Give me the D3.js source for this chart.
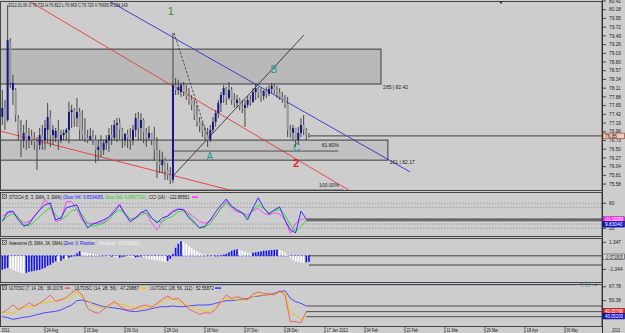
<!DOCTYPE html>
<html><head><meta charset="utf-8">
<script src="https://cdn.jsdelivr.net/npm/d3@7"></script>
<style>
body{margin:0;background:#cdcdcd;overflow:hidden}
svg{display:block}
text{font-family:"Liberation Sans",Arial,sans-serif}
</style></head>
<body><svg id="c" width="625" height="333"></svg>
<script>
// ---------- DATA ----------
const highs=[78.06,77.80,80.30,79.43,78.46,78.11,77.40,77.27,77.14,77.27,
77.06,77.01,76.95,76.82,77.06,77.14,77.27,77.72,77.53,77.14,
77.06,77.27,77.01,77.01,77.06,77.75,77.67,77.59,77.85,77.59,
77.53,77.32,77.01,77.06,77.01,76.87,76.74,76.87,76.74,76.87,
77.06,77.14,77.27,77.32,77.32,77.06,76.93,77.01,77.06,77.14,
77.45,77.48,77.45,77.32,77.06,77.11,76.93,77.09,76.82,76.48,
76.43,76.27,76.14,76.03,79.57,78.38,78.33,78.25,78.27,78.19,
78.11,77.93,77.80,77.67,77.35,77.22,77.09,77.06,77.14,77.35,
77.53,77.80,78.01,78.19,78.14,78.27,78.14,77.98,77.93,77.85,
77.80,77.80,77.90,77.93,78.11,78.22,78.14,78.11,78.06,78.14,
78.19,78.25,78.22,78.17,78.11,78.01,77.93,77.88,77.14,77.14,
77.06,77.09,77.32,77.40,77.06,76.93];
const lows=[77.14,77.01,77.22,78.11,77.67,77.22,76.74,76.29,76.53,76.48,
76.53,76.61,76.48,75.95,76.48,76.48,76.48,76.66,76.56,76.61,
76.69,76.48,76.66,76.74,76.74,76.66,77.06,77.09,77.09,76.74,
76.74,76.69,76.66,76.74,76.61,76.14,76.21,76.29,76.35,76.48,
76.43,76.61,76.74,76.69,76.74,76.53,76.58,76.53,76.48,76.61,
76.82,76.74,76.74,76.66,76.56,76.74,76.61,76.21,75.74,75.87,
75.87,75.69,75.69,75.58,75.61,77.93,77.93,77.88,77.90,77.80,
77.67,77.53,77.27,77.09,76.95,76.82,76.74,76.56,76.69,76.93,
77.09,77.32,77.48,77.72,77.67,77.80,77.67,77.59,77.59,77.53,
77.45,77.09,77.59,77.64,77.72,77.80,77.85,77.75,77.80,77.85,
77.90,77.98,77.96,77.85,77.80,77.72,77.59,76.82,76.80,76.74,
76.56,76.61,76.82,76.87,76.74,76.80];
const opens=[77.35,77.59,77.27,79.33,78.06,78.06,77.32,76.95,76.74,76.93,
76.74,76.85,76.74,76.69,76.61,76.87,76.74,77.01,77.35,76.87,
76.80,76.98,76.74,76.87,76.93,77.01,77.48,77.53,77.32,77.48,
77.01,76.87,76.80,76.74,76.85,76.74,76.48,76.56,76.48,76.66,
76.74,76.87,76.80,77.14,77.19,77.01,76.74,76.90,76.80,76.74,
77.01,77.32,77.06,77.27,76.95,76.80,76.93,76.74,76.48,76.16,
76.08,76.21,75.95,75.82,75.69,78.19,78.06,78.01,78.19,78.01,
77.90,77.80,77.67,77.40,77.22,77.11,76.98,76.87,76.74,77.01,
77.22,77.45,77.72,77.93,78.11,77.85,78.06,77.80,77.72,77.80,
77.64,77.59,77.67,77.80,77.75,78.01,78.11,77.98,77.90,78.04,
77.96,78.09,78.17,78.06,77.98,77.88,77.80,77.69,77.01,76.93,
77.06,76.74,76.93,77.14,77.01,76.87];
const closes=[77.59,77.27,79.38,78.27,78.25,77.40,76.95,76.74,76.93,76.74,
76.85,76.74,76.69,76.61,76.87,76.74,77.06,77.35,76.87,77.01,
76.98,76.74,76.87,76.93,77.01,77.48,77.53,77.32,77.48,77.01,
76.87,76.80,76.74,76.85,76.74,76.48,76.56,76.48,76.66,76.74,
76.87,76.80,77.14,77.19,77.01,76.87,76.90,76.80,76.74,77.01,
77.32,77.06,77.27,76.95,76.80,76.93,76.74,76.48,76.16,76.08,
76.21,75.95,75.82,75.69,78.19,78.06,78.14,78.19,78.01,77.90,
77.80,77.67,77.40,77.22,77.11,76.98,76.87,76.74,77.01,77.22,
77.45,77.72,77.93,78.11,77.85,78.06,77.80,77.72,77.80,77.64,
77.59,77.67,77.80,77.75,78.01,78.11,77.98,77.90,78.04,77.96,
78.09,78.17,78.06,77.98,77.88,77.80,77.69,77.01,76.93,77.06,
76.74,76.93,77.14,77.01,76.87,76.85];

// indicator lines sampled every 2nd bar
const stochK=[37,59,61,40,25,30,49,64,76,81,40,45,69,73,76,45,21,30,35,40,47,59,76,54,35,45,57,64,45,33,45,49,59,66,64,45,33,21,25,40,59,76,90,73,64,57,40,69,93,69,54,64,71,40,16,9,61,42];
const stochD=[36,49,54,46,28,25,36,48,60,70,52,41,49,62,65,52,32,25,28,32,40,56,64,56,40,44,52,57,44,36,36,44,49,60,62,52,36,20,22,32,48,68,80,72,64,57,46,64,76,68,57,62,65,52,28,12,24,38];
const cci=[-4,29,45,-31,-84,-72,-19,69,198,117,-72,-52,169,169,69,-60,-92,-92,-92,-80,-12,77,141,29,-43,-19,45,29,-84,-172,-60,8,60,81,77,29,-19,-72,-92,-60,-4,89,181,89,48,29,8,60,89,29,8,36,20,-52,-212,-92,-43,-40];

const ao=[-1.4,-1.3,-1.2,-1.25,-1.4,-1.5,-1.6,-1.7,-1.75,-1.7,
-1.6,-1.55,-1.5,-1.45,-1.4,-1.3,-1.2,-1.0,-0.9,-0.7,
-0.55,-0.6,-0.5,-0.3,-0.35,-0.2,-0.1,0.05,0.25,0.45,
0.4,0.35,0.3,0.25,0.2,0.15,0.1,0.05,0.02,-0.05,
-0.1,-0.08,-0.15,-0.2,-0.18,-0.1,-0.05,-0.1,-0.15,-0.2,
-0.15,-0.1,-0.05,-0.1,-0.2,-0.3,-0.35,-0.4,-0.45,-0.5,
-0.55,-0.6,-0.5,-0.3,0.2,0.8,1.2,1.45,1.4,1.2,
1.0,0.8,0.6,0.45,0.3,0.2,0.1,0.0,-0.05,-0.08,
-0.05,0.0,0.05,0.12,0.2,0.35,0.5,0.6,0.65,0.6,
0.5,0.4,0.3,0.25,0.3,0.35,0.4,0.45,0.5,0.52,
0.55,0.58,0.6,0.62,0.6,0.5,0.3,0.1,-0.2,-0.4,
-0.55,-0.6,-0.65,-0.7,-0.65,-0.6];
const aoLevels=[0,-0.92];

const ultFast=[35.4,39.6,45,39.6,42.9,47.9,43.75,47.1,52.1,57.5,50,51.25,54.6,60.4,63.75,57.5,40.8,36.7,34.6,39.6,45,49.2,43.75,39.6,38.75,40.8,43.75,45,42.1,47.1,52.1,56.25,52.1,53.3,47.1,39.6,36.7,33.3,35.4,34.6,39.6,49.2,57.5,53.3,55.4,53.3,52.1,58.75,61.25,59.6,58.75,57.5,62.9,57.5,24.2,24.2,22.9,36.7];
const ultMid=[36.7,35.4,34.6,38.75,41.7,42.9,43.75,47.1,47.9,49.2,50.4,51.25,53.3,56.25,60.4,55.4,50.4,45,42.1,40.8,42.9,47.1,46.25,45,42.9,40.8,40.8,41.7,42.9,45,49.2,53.3,52.1,50.4,47.1,44.2,40.8,38.75,36.7,37.9,42.9,47.9,53.3,52.1,51.25,51.25,51.25,55.4,57.5,57.5,57.5,58.75,60.4,61.25,34.6,32.5,27.1,30.4];
const ultSlow=[30.4,29.2,27.1,28.3,29.6,30.4,32.1,33.75,35.4,36.25,37.1,38.75,42.1,45,50.4,51.25,49.2,47.1,45,42.9,42.1,41.25,40.4,38.75,37.1,36.7,37.9,38.75,40.4,42.1,42.9,42.9,43.75,42.9,42.9,43.75,44.6,45,45,45.4,47.1,48.75,50.4,50.4,51.25,52.1,52.9,55.4,56.25,57.1,57.9,59.6,61.7,62.9,53.3,49.2,47.1,43.75];

const priceTicks=[80.41,80.18,79.95,79.72,79.49,79.26,79.03,78.80,78.57,78.34,78.11,77.88,77.65,77.42,77.19,76.96,76.73,76.50,76.27,76.04,75.81,75.58];
const stochTicks=[80,20];
const aoTicks=[1.347,-1.344];
const ultTicks=[67.78,50.38];
const dateLabels=["24 Aug","15 Sep","06 Oct","28 Oct","18 Nov","07 Dec","28 Dec","17 Jan 2012","04 Feb","22 Feb","11 Mar","29 Mar","18 Apr","06 May"];
const dateStart=16, dateStep=15;

// annotations in (bar index, price)
const zones=[{i0:-1,i1:142,p0:79.14,p1:78.22,fill:"#b9b9b9"},{i0:-1,i1:144.6,p0:76.74,p1:76.21,fill:"#c1c1c1"}];
const trendLines=[
 {a:[39.26,80.44],b:[152.9,75.90],c:"#3030d0",w:0.9,d:null},
 {a:[9.26,80.44],b:[130.4,75.40],c:"#e83a3a",w:0.9,d:null},
 {a:[-0.9,76.98],b:[86.5,75.40],c:"#e83a3a",w:0.9,d:null},
 {a:[64,75.79],b:[113.1,79.51],c:"#222",w:0.8,d:null},
 {a:[64.4,79.57],b:[76.8,76.87],c:"#333",w:0.8,d:"2.5,1.5"},
 {a:[64,76.45],b:[126,76.45],c:"#444",w:0.9,d:null}
];
const waveLabels=[
 {t:"1",i:63.2,p:80.05,c:"#3c8a3c",s:11,b:false},
 {t:"B",i:101.8,p:78.50,c:"#1d9a8c",s:10,b:false},
 {t:"A",i:77.8,p:76.22,c:"#1d9a8c",s:10,b:false},
 {t:"C",i:110.4,p:76.46,c:"#1d9a8c",s:10,b:false},
 {t:"2",i:110.2,p:76.02,c:"#e82020",s:11,b:true}
];
const fibTexts=[
 {t:"285 | 82.42",i:142.8,p:78.10},
 {t:"161 | 82.17",i:145.3,p:76.10},
 {t:"61.80%",i:119.8,p:76.55},
 {t:"100.00%",i:118.8,p:75.49}
];

// ---------- LAYOUT ----------
const W=625,H=333,AX=602;
const P={main:[1,190],stoch:[192,236],ao:[238,282],ult:[284,326]};
const svg=d3.select("#c");
svg.append("rect").attr("width",W).attr("height",H).attr("fill","#cdcdcd");
const defs=svg.append("defs");
Object.entries(P).forEach(([k,[t,b]])=>{
  defs.append("clipPath").attr("id","clip-"+k).append("rect").attr("x",0).attr("y",t).attr("width",AX).attr("height",b-t);
});

const x=d3.scaleLinear().domain([0,225]).range([2.3,2.3+225*(40/15)]);
const y=d3.scaleLinear().domain([75.58,80.41]).range([184.04,0.985]);
const ys=d3.scaleLinear().domain([0,100]).range([236.6,194.9]);
const yc=d3.scaleLinear().domain([-100,100]).range([224.0,207.4]);
const ya=d3.scaleLinear().domain([-1.344,1.347]).range([269.3,242.3]);
const yu=d3.scaleLinear().domain([20,70]).range([325,285]);

function fit(g,str,px,py,size,width,fill,weight){
  const t=g.append("text").attr("font-size",size).attr("fill",fill||"#000").text(str);
  if(weight) t.attr("font-weight",weight);
  const w=t.node().getComputedTextLength();
  const s=width?width/w:1;
  t.attr("transform",`translate(${px},${py}) scale(${s},1)`);
  return t;
}

// ---------- MAIN PANEL ----------
const gm=svg.append("g").attr("clip-path","url(#clip-main)");
zones.forEach(z=>{
  gm.append("rect").attr("x",x(z.i0)).attr("y",y(z.p0)).attr("width",x(z.i1)-x(z.i0))
    .attr("height",y(z.p1)-y(z.p0)).attr("fill",z.fill).attr("stroke","#3c3c3c").attr("stroke-width",1);
});
gm.append("line").attr("x1",0).attr("x2",x(128)).attr("y1",y(75.42)).attr("y2",y(75.42)).attr("stroke","#444").attr("stroke-width",1);
trendLines.forEach(l=>{
  const ln=gm.append("line").attr("x1",x(l.a[0])).attr("y1",y(l.a[1])).attr("x2",x(l.b[0])).attr("y2",y(l.b[1]))
   .attr("stroke",l.c).attr("stroke-width",l.w);
  if(l.d) ln.attr("stroke-dasharray",l.d);
});
const lastC=closes[closes.length-1];
gm.append("line").attr("x1",x(closes.length-1)).attr("x2",AX).attr("y1",y(lastC)).attr("y2",y(lastC)).attr("stroke","#5a5a5a").attr("stroke-width",1.4);

const idx=d3.range(closes.length);
gm.selectAll(".wick").data(idx).join("line")
  .attr("x1",i=>x(i)).attr("x2",i=>x(i)).attr("y1",i=>y(highs[i])).attr("y2",i=>y(lows[i]))
  .attr("stroke","#3a3a3a").attr("stroke-width",0.9);
gm.selectAll(".body").data(idx).join("rect")
  .attr("x",i=>x(i)-1).attr("width",2)
  .attr("y",i=>Math.min(y(opens[i]),y(closes[i])))
  .attr("height",i=>Math.max(0.9,Math.abs(y(opens[i])-y(closes[i]))))
  .attr("fill",i=>closes[i]>=opens[i]?"#16168a":"#9a9a9a");

fibTexts.forEach(f=>fit(gm,f.t,x(f.i),y(f.p),5,null,"#222"));
waveLabels.forEach(w=>{
  gm.append("text").attr("x",x(w.i)).attr("y",y(w.p)).attr("font-size",w.s).attr("fill",w.c)
   .attr("font-weight",w.b?"bold":"normal").attr("text-anchor","middle").text(w.t);
});
fit(svg,"2012.01.06  O:76.732  H:76.822  L:76.669  C:76.720  V:76695  R:154.149",8,7,5,120,"#222");
svg.append("path").attr("d",`M${x(187)-2},1 L${x(187)+2},1 L${x(187)},4 Z`).attr("fill","#111");

// ---------- STOCH PANEL ----------
const gs=svg.append("g").attr("clip-path","url(#clip-stoch)");
[80,70,30,20].forEach(v=>{
  gs.append("line").attr("x1",0).attr("x2",AX).attr("y1",ys(v)).attr("y2",ys(v))
    .attr("stroke","#8a8a8a").attr("stroke-width",0.6).attr("stroke-dasharray","1.5,1.5");
});
const xi=k=>x(2*k);
const lineS=(arr,sc)=>d3.line().x((d,k)=>xi(k)).y(d=>sc(d))(arr);
gs.append("path").attr("d",lineS(cci,yc)).attr("fill","none").attr("stroke","#ff3cff").attr("stroke-width",0.9);
gs.append("path").attr("d",lineS(stochD,ys)).attr("fill","none").attr("stroke","#22dd22").attr("stroke-width",0.9);
gs.append("path").attr("d",lineS(stochK,ys)).attr("fill","none").attr("stroke","#2020ff").attr("stroke-width",0.9);
const lastK=stochK[stochK.length-1], lastD=stochD[stochD.length-1];
[lastK,lastD].forEach(v=>gs.append("line").attr("x1",xi(stochK.length-1)).attr("x2",AX).attr("y1",ys(v)).attr("y2",ys(v)).attr("stroke","#444").attr("stroke-width",1.2));

// ---------- AO PANEL ----------
const ga=svg.append("g").attr("clip-path","url(#clip-ao)");
ga.append("line").attr("x1",0).attr("x2",x(ao.length)).attr("y1",ya(0)).attr("y2",ya(0)).attr("stroke","#2020ff").attr("stroke-width",0.9).attr("stroke-dasharray","2,1.5");
ga.selectAll(".ao").data(ao).join("rect")
  .attr("x",(d,i)=>x(i)-0.8).attr("width",1.6)
  .attr("y",d=>Math.min(ya(d),ya(0))).attr("height",d=>Math.abs(ya(d)-ya(0)))
  .attr("fill",(d,i)=>i===0||d>=ao[i-1]?"#1010f0":"#ffffff");
aoLevels.forEach(v=>ga.append("line").attr("x1",x(ao.length-1)).attr("x2",AX).attr("y1",ya(v)).attr("y2",ya(v)).attr("stroke","#444").attr("stroke-width",1));

// ---------- ULT PANEL ----------
const gu=svg.append("g").attr("clip-path","url(#clip-ult)");
gu.append("line").attr("x1",0).attr("x2",577).attr("y1",yu(70)).attr("y2",yu(70)).attr("stroke","#6f93b5").attr("stroke-width",0.8);
gu.append("path").attr("d",lineS(ultSlow,yu)).attr("fill","none").attr("stroke","#3a3aff").attr("stroke-width",0.9);
gu.append("path").attr("d",lineS(ultMid,yu)).attr("fill","none").attr("stroke","#f5c400").attr("stroke-width",0.9);
gu.append("path").attr("d",lineS(ultFast,yu)).attr("fill","none").attr("stroke","#ec5a5a").attr("stroke-width",0.9);
[ultSlow,ultFast,ultMid].forEach(a=>{const v=a[a.length-1];
  gu.append("line").attr("x1",xi(a.length-1)).attr("x2",AX).attr("y1",yu(v)).attr("y2",yu(v)).attr("stroke","#4a4a4a").attr("stroke-width",1);});
fit(svg,"70.000",579,yu(70)+1.8,5,12,"#6f93b5");
svg.append("path").attr("d",`M592,${yu(70)} L597,${yu(70)} M595,${yu(70)-1.5} L597,${yu(70)} L595,${yu(70)+1.5}`).attr("stroke","#6f93b5").attr("stroke-width",0.8).attr("fill","none");

// ---------- PANEL BORDERS ----------
Object.values(P).forEach(([t,b])=>{
  svg.append("rect").attr("x",0.5).attr("y",t+0.5).attr("width",AX-0.5).attr("height",b-t).attr("fill","none").attr("stroke","#444").attr("stroke-width",1);
});
svg.append("line").attr("x1",AX+0.5).attr("x2",AX+0.5).attr("y1",0).attr("y2",H).attr("stroke","#333");

// ---------- HEADERS ----------
function icon(py){
  svg.append("rect").attr("x",2.5).attr("y",py-4.5).attr("width",4).attr("height",4).attr("fill","#ddd").attr("stroke","#333").attr("stroke-width",0.6);
  svg.append("path").attr("d",`M3.3,${py-3.7}L5.7,${py-1.3}M5.7,${py-3.7}L3.3,${py-1.3}`).attr("stroke","#333").attr("stroke-width",0.6);
}
function multi(parts,px,py,width){
  const t=svg.append("text").attr("font-size",5);
  parts.forEach(([s,c])=>t.append("tspan").attr("fill",c).text(s));
  const w=t.node().getComputedTextLength();
  t.attr("transform",`translate(${px},${py}) scale(${width/w},1)`);
}
icon(199);
multi([["STOCH (5, 3, SMA, 3, SMA) ","#111"],["(Slow %K: 9.8304085, ","#2020ff"],["Slow %D: 9.0867730)","#22cc22"],[" , CCI (14) : -122.89551","#111"]],9,199,181);
svg.append("rect").attr("x",192).attr("y",196.3).attr("width",6).attr("height",1.6).attr("fill","#ff3cff");
icon(245);
multi([["Awesome (5, SMA, 34, SMA) (","#111"],["Zero: 0, Positive: ","#1010f0"],[", Negative: -0.5718051)","#f4f4f4"]],9,245,131);
icon(290);
multi([["ULTOSC (7, 14, 28) : 39.10176","#111"]],9,290,54);
svg.append("rect").attr("x",65).attr("y",287.3).attr("width",5).attr("height",1.6).attr("fill","#ec5a5a");
multi([[", ULTOSC (14, 28, 56) : 47.29887","#111"]],72,290,67);
svg.append("rect").attr("x",140).attr("y",287.3).attr("width",6).attr("height",1.6).attr("fill","#f5c400");
multi([[", ULTOSC (28, 56, 112) : 52.55872","#111"]],148,290,66);
svg.append("rect").attr("x",215).attr("y",287.3).attr("width",6).attr("height",1.6).attr("fill","#3a3aff");

// ---------- RIGHT AXES ----------
const ga2=svg.append("g");
function rtick(yy,label){
  ga2.append("line").attr("x1",AX+1).attr("x2",AX+4).attr("y1",yy).attr("y2",yy).attr("stroke","#222").attr("stroke-width",0.8);
  ga2.append("text").attr("x",AX+7).attr("y",yy+1.7).attr("font-size",4.8).attr("fill","#222").text(label);
}
priceTicks.forEach(v=>rtick(y(v),v.toFixed(2)));
stochTicks.forEach(v=>rtick(ys(v),String(v)));
aoTicks.forEach(v=>rtick(ya(v),v.toFixed(3)));
ultTicks.forEach(v=>rtick(yu(v),v.toFixed(2)));
function rbox(yy,label,fill,stroke,tc){
  ga2.append("rect").attr("x",AX+1).attr("y",yy-2.8).attr("width",21.5).attr("height",5.6).attr("fill",fill).attr("stroke",stroke).attr("stroke-width",0.6);
  const t=ga2.append("text").attr("font-size",4.8).attr("fill",tc).text(label);
  const w=t.node().getComputedTextLength();
  const s=Math.min(1,18/w);
  t.attr("transform",`translate(${AX+3},${yy+1.8}) scale(${s},1)`);
}
rbox(y(lastC),lastC.toFixed(2),"#f4c9b8","#8a3a2a","#222");
rbox(ys(lastK)+0.5,"-11.12209","#ff3cff","#802080","#fff");
rbox(ys(lastD)+3.5,"9.83040","#1515e0","#101060","#fff");
rbox(ya(0)+1,"-0.571805","#e0e0e0","#444","#111");
rbox(yu(ultFast[ultFast.length-1])-0.5,"40.05798","#f03030","#801010","#fff");
rbox(yu(ultFast[ultFast.length-1])+4.5,"40.05203","#1515e0","#101060","#fff");

// ---------- DATE AXIS ----------
const gd=svg.append("g");
fit(gd,"2011",1.5,332,5,8,"#222");
dateLabels.forEach((s,k)=>{
  const xx=x(dateStart+k*dateStep);
  gd.append("line").attr("x1",xx).attr("x2",xx).attr("y1",326).attr("y2",333).attr("stroke","#333").attr("stroke-width",0.7);
  fit(gd,s,xx+1.5,332,5,s.length*1.95,"#222");
});
fit(gd,"2012",612,332,5,8,"#222");
</script></body></html>
